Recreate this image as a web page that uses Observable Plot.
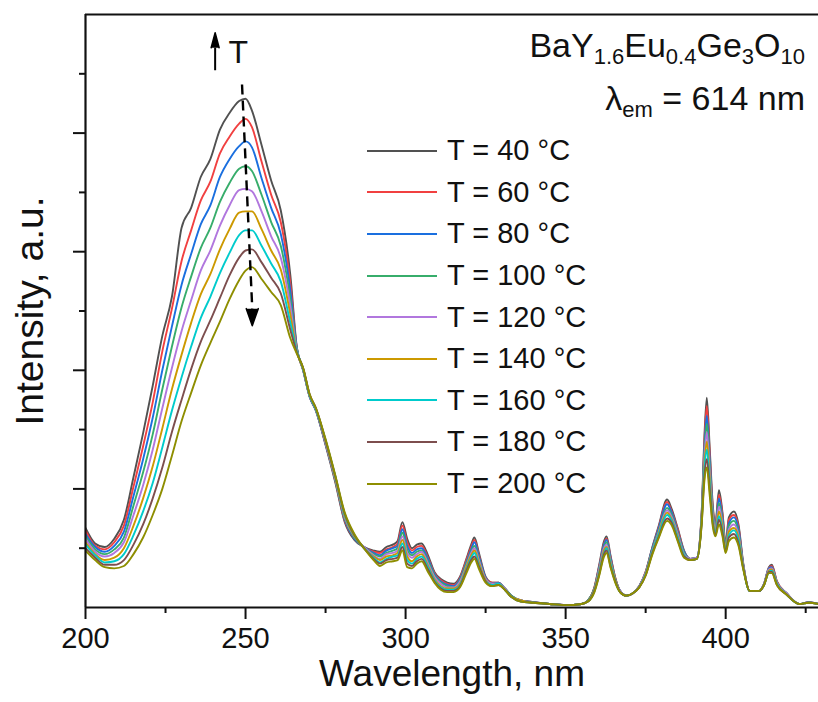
<!DOCTYPE html>
<html><head><meta charset="utf-8">
<script src="https://cdn.jsdelivr.net/npm/d3@7"></script>
<script src="https://cdn.jsdelivr.net/npm/@observablehq/plot@0.6"></script>
<style>
body{margin:0;background:#fff;font-family:Arial,"Liberation Sans",sans-serif;}
#wrap{position:relative;width:818px;height:702px;overflow:hidden;}
#title{position:absolute;right:13px;top:19px;text-align:right;font-size:34px;line-height:53px;color:#111;}
#title sub{font-size:22px;vertical-align:-7px;line-height:0;}
#legend{position:absolute;left:367px;top:130px;}
.row{height:41.6px;display:flex;align-items:center;font-size:29px;color:#111;}
.row .ln{width:70px;height:2px;margin-right:10px;}
</style></head><body><div id="wrap"><div id="chart"></div><div id="title"></div><div id="legend"></div></div>
<script>
const wavelength = [
 200,203,206,209,212,215,218,221,224,227,
 230,233,236,239,242,245,248,250,252,255,
 258,261,264,266,268,270,272,275,278,281,
 284,287,290,292,294,296,297.5,299,300.5,302,
 303.5,305,307,309,311,313,315,317,319,320.5,
 321.5,323,325,327,329,331,333,336,340,345,
 350,355,357,359,360.5,362,362.8,364,365.5,367,
 369,371,373,375,377,379,381.7,383,385,387,
 389,391,392.5,393.3,394.1,395,396,396.8,397.9,399,
 400,401,402.6,404,405.5,407.5,410.5,412,413.5,414.4,
 416,419,423,426,429];
const t40 = [
 .67,.54,.51,.58,.74,1.10,1.47,1.87,2.29,2.62,
 3.20,3.37,3.63,3.78,4.03,4.17,4.27,4.29,4.19,3.90,
 3.60,3.35,2.80,2.20,2.00,1.78,1.66,1.37,1.06,.72,
 .57,.51,.48,.47,.51,.53,.56,.72,.58,.50,
 .53,.54,.44,.30,.24,.21,.20,.26,.41,.53,
 .59,.45,.26,.21,.21,.16,.10,.06,.045,.03,
 .02,.03,.06,.17,.36,.56,.60,.44,.25,.14,
 .10,.12,.18,.30,.50,.68,.91,.84,.67,.48,
 .41,.42,.80,1.40,1.77,1.35,.85,.71,.99,.80,
 .54,.76,.81,.70,.37,.14,.14,.20,.34,.36,
 .22,.12,.03,.045,.03];
const t60 = [
 .65,.52,.49,.55,.69,1.02,1.36,1.73,2.16,2.52,
 2.92,3.18,3.43,3.59,3.83,3.97,4.08,4.12,4.05,3.76,
 3.48,3.25,2.73,2.19,2.00,1.78,1.66,1.38,1.07,.73,
 .58,.51,.47,.46,.49,.51,.54,.69,.55,.48,
 .51,.52,.42,.29,.23,.20,.19,.25,.40,.51,
 .57,.43,.25,.21,.21,.16,.10,.06,.045,.03,
 .02,.03,.06,.17,.35,.54,.58,.43,.25,.14,
 .10,.12,.18,.30,.49,.67,.89,.82,.66,.47,
 .41,.42,.79,1.36,1.70,1.30,.83,.70,.95,.78,
 .53,.74,.78,.68,.36,.14,.14,.20,.33,.35,
 .22,.12,.03,.045,.03];
const t80 = [
 .62,.51,.47,.52,.64,.94,1.25,1.60,2.00,2.37,
 2.72,2.98,3.23,3.39,3.63,3.78,3.89,3.93,3.88,3.62,
 3.37,3.15,2.67,2.19,2.00,1.78,1.66,1.38,1.08,.74,
 .58,.51,.46,.44,.48,.50,.52,.66,.52,.46,
 .49,.50,.41,.28,.22,.19,.18,.24,.38,.49,
 .55,.42,.25,.20,.21,.16,.10,.06,.045,.03,
 .02,.03,.06,.16,.34,.53,.57,.42,.24,.14,
 .10,.12,.18,.29,.49,.66,.87,.81,.64,.47,
 .41,.42,.78,1.31,1.62,1.25,.81,.68,.92,.75,
 .52,.71,.76,.66,.36,.14,.14,.20,.33,.34,
 .21,.12,.03,.045,.03];
const t100 = [
 .60,.49,.45,.49,.59,.86,1.14,1.46,1.84,2.20,
 2.53,2.79,3.03,3.20,3.42,3.58,3.70,3.72,3.68,3.48,
 3.25,3.05,2.60,2.18,2.01,1.79,1.67,1.39,1.08,.75,
 .59,.51,.45,.43,.46,.48,.50,.63,.49,.44,
 .47,.48,.39,.27,.21,.18,.17,.23,.37,.47,
 .52,.40,.24,.20,.20,.16,.10,.06,.04,.03,
 .02,.03,.06,.16,.33,.51,.55,.40,.24,.14,
 .10,.12,.18,.29,.48,.64,.84,.79,.63,.46,
 .41,.42,.76,1.27,1.55,1.20,.79,.67,.88,.73,
 .51,.69,.73,.63,.35,.14,.14,.20,.32,.33,
 .21,.12,.03,.04,.03];
const t120 = [
 .58,.47,.43,.46,.55,.78,1.03,1.33,1.68,2.02,
 2.33,2.59,2.84,3.01,3.22,3.39,3.52,3.53,3.51,3.34,
 3.13,2.95,2.54,2.17,2.01,1.79,1.67,1.39,1.09,.76,
 .60,.51,.44,.41,.45,.46,.48,.60,.46,.42,
 .45,.47,.37,.26,.20,.17,.17,.22,.35,.46,
 .50,.39,.24,.20,.20,.16,.09,.06,.04,.03,
 .02,.03,.055,.15,.32,.50,.53,.39,.23,.14,
 .10,.12,.18,.29,.47,.63,.82,.77,.62,.45,
 .41,.42,.75,1.23,1.48,1.15,.77,.66,.85,.70,
 .50,.66,.70,.61,.35,.14,.14,.20,.32,.33,
 .21,.12,.03,.04,.03];
const t140 = [
 .55,.45,.40,.42,.50,.69,.92,1.19,1.51,1.84,
 2.13,2.40,2.64,2.81,3.02,3.19,3.33,3.34,3.34,3.19,
 3.01,2.85,2.47,2.16,2.01,1.79,1.67,1.40,1.10,.77,
 .60,.50,.43,.40,.43,.44,.46,.57,.43,.39,
 .43,.45,.35,.24,.18,.16,.16,.20,.34,.44,
 .48,.37,.23,.19,.20,.15,.09,.06,.04,.03,
 .02,.03,.055,.15,.30,.48,.51,.38,.23,.13,
 .10,.12,.17,.28,.46,.62,.80,.75,.60,.44,
 .40,.41,.74,1.18,1.40,1.10,.74,.64,.81,.68,
 .49,.64,.67,.59,.34,.14,.14,.19,.31,.32,
 .20,.11,.03,.04,.03];
const t160 = [
 .53,.44,.38,.39,.45,.61,.81,1.05,1.35,1.66,
 1.94,2.20,2.44,2.62,2.82,2.99,3.14,3.18,3.18,3.05,
 2.90,2.75,2.40,2.16,2.01,1.79,1.67,1.41,1.11,.78,
 .61,.50,.42,.38,.41,.43,.44,.54,.40,.37,
 .41,.43,.34,.23,.17,.15,.15,.19,.32,.42,
 .46,.35,.22,.19,.20,.15,.09,.05,.04,.03,
 .02,.03,.05,.14,.29,.46,.50,.37,.22,.13,
 .10,.12,.17,.28,.46,.61,.78,.74,.59,.44,
 .40,.41,.73,1.14,1.33,1.05,.72,.63,.77,.65,
 .48,.61,.65,.57,.33,.14,.14,.19,.30,.31,
 .20,.11,.03,.04,.03];
const t180 = [
 .50,.42,.36,.36,.40,.53,.70,.92,1.18,1.48,
 1.75,2.01,2.24,2.42,2.61,2.80,2.95,3.01,3.02,2.91,
 2.78,2.65,2.34,2.15,2.02,1.80,1.68,1.41,1.11,.79,
 .61,.50,.41,.37,.40,.41,.42,.51,.37,.35,
 .39,.41,.32,.22,.16,.14,.14,.18,.31,.40,
 .43,.34,.22,.18,.19,.15,.09,.05,.04,.03,
 .02,.03,.05,.14,.28,.45,.48,.35,.22,.13,
 .10,.12,.17,.27,.45,.59,.75,.72,.57,.43,
 .40,.41,.71,1.09,1.25,1.00,.70,.61,.74,.63,
 .47,.59,.62,.54,.33,.14,.14,.19,.30,.30,
 .19,.11,.03,.04,.03];
const t200 = [
 .48,.40,.34,.33,.35,.45,.59,.78,1.00,1.28,
 1.57,1.81,2.04,2.23,2.41,2.60,2.76,2.84,2.87,2.77,
 2.66,2.55,2.27,2.14,2.02,1.80,1.68,1.42,1.12,.80,
 .62,.50,.40,.35,.38,.39,.40,.48,.34,.33,
 .37,.39,.30,.21,.15,.13,.13,.17,.29,.38,
 .41,.32,.21,.18,.19,.15,.09,.05,.04,.03,
 .02,.03,.05,.13,.27,.43,.46,.34,.21,.13,
 .10,.12,.17,.27,.44,.58,.73,.70,.56,.42,
 .40,.41,.70,1.05,1.18,.95,.68,.60,.70,.60,
 .46,.56,.59,.52,.32,.14,.14,.19,.29,.29,
 .19,.11,.03,.04,.03];

const temperatures = [40, 60, 80, 100, 120, 140, 160, 180, 200];
const seriesValues = [t40, t60, t80, t100, t120, t140, t160, t180, t200];
const colors = ["#515151","#F14040","#1A6FDF","#37AD6B","#B177DE","#CC9900","#00CBCC","#7D4E4E","#8E8E00"];
const xMajor = [200, 250, 300, 350, 400];
const xMinor = [225, 275, 325, 375, 425];
const yMajor = [1, 2, 3, 4];
const yMinor = [0.5, 1.5, 2.5, 3.5, 4.5];

const labels = temperatures.map(t => `T = ${t} °C`);
const rows = [];
seriesValues.forEach((vals, i) => {
  wavelength.forEach((w, j) => rows.push({w, v: vals[j], T: labels[i]}));
});

const chart = Plot.plot({
  width: 818, height: 702,
  marginLeft: 85, marginRight: 0, marginTop: 14, marginBottom: 95,
  style: {fontFamily: 'Arial, "Liberation Sans", sans-serif', background: "transparent", color: "#111"},
  x: {domain: [200, 429]},
  y: {domain: [0, 5]},
  color: {domain: labels, range: colors},
  marks: [
    Plot.line(rows, {x: "w", y: "v", z: "T", stroke: "T", strokeWidth: 1.9, curve: "monotone-x", clip: true}),
    Plot.axisX(xMajor, {tickSize: 12, tickPadding: 8, fontSize: 29, strokeWidth: 2, label: null}),
    Plot.axisX(xMinor, {tickSize: 6, text: null, strokeWidth: 2, label: null}),
    Plot.axisY(yMajor, {tickSize: 12, text: null, strokeWidth: 2, label: null}),
    Plot.axisY(yMinor, {tickSize: 6, text: null, strokeWidth: 2, label: null}),
    Plot.ruleX([200], {strokeWidth: 2.2}),
    Plot.ruleY([0], {strokeWidth: 2.2}),
    Plot.ruleY([5], {strokeWidth: 2.2}),
    Plot.text(["Wavelength, nm"], {frameAnchor: "bottom", dy: 78, fontSize: 37}),
    Plot.text(["Intensity, a.u."], {frameAnchor: "left", textAnchor: "middle", dx: -55, rotate: -90, fontSize: 39}),
    // temperature annotation
    Plot.link([{x1: 248.9, y1: 4.41, x2: 252.1, y2: 2.52}], {x1: "x1", y1: "y1", x2: "x2", y2: "y2", stroke: "black", strokeWidth: 2.4, strokeDasharray: "10,6"}),
    Plot.vector([{x: 252.1, y: 2.52}], {x: "x", y: "y", length: 17, rotate: 180, shape: "spike", r: 6, anchor: "start", fill: "black", stroke: "black"}),
    Plot.link([{x1: 240.5, y1: 4.53, x2: 240.5, y2: 4.72}], {x1: "x1", y1: "y1", x2: "x2", y2: "y2", stroke: "black", strokeWidth: 2}),
    Plot.vector([{x: 240.5, y: 4.72}], {x: "x", y: "y", length: 15, rotate: 0, shape: "spike", r: 4, anchor: "start", fill: "black", stroke: "black"}),
    Plot.text([{x: 247.7, y: 4.68}], {x: "x", y: "y", text: () => "T", fontSize: 32})
  ]
});
document.getElementById("chart").appendChild(chart);

document.getElementById("title").innerHTML =
  'BaY<sub>1.6</sub>Eu<sub>0.4</sub>Ge<sub>3</sub>O<sub>10</sub><br>λ<sub>em</sub> = 614 nm';

const legend = document.getElementById("legend");
labels.forEach((lab, i) => {
  const r = document.createElement("div");
  r.className = "row";
  r.innerHTML = `<span class="ln" style="background:${colors[i]}"></span><span>${lab}</span>`;
  legend.appendChild(r);
});
</script>
</body></html>
